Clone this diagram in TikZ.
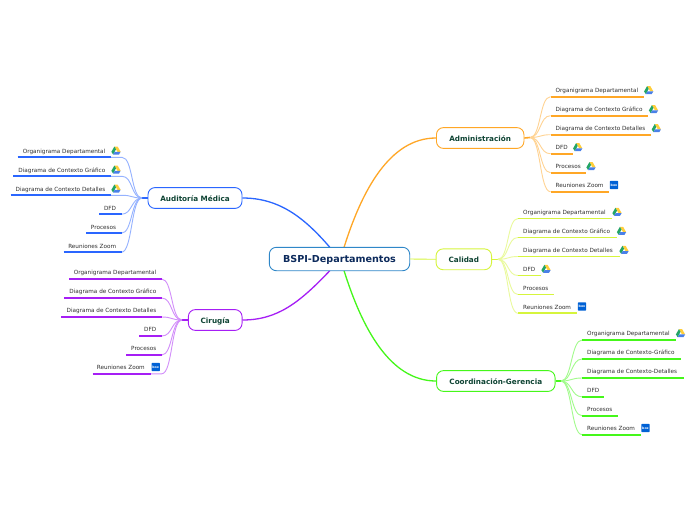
\documentclass[tikz,border=0pt]{standalone}
\usepackage{fontspec}
\setmainfont{DejaVu Sans}
\definecolor{corange}{HTML}{FFA726}
\definecolor{cblue}{HTML}{2A66FF}
\definecolor{cpurple}{HTML}{A61EF5}
\definecolor{cyellow}{HTML}{D6F53C}
\definecolor{cgreen}{HTML}{45F71A}
\definecolor{croot}{HTML}{2F87C8}
\definecolor{roottext}{HTML}{0C2A5C}
\definecolor{branchtext}{HTML}{0F4434}
\definecolor{leaftext}{HTML}{303030}
\definecolor{gdyellow}{HTML}{FFCE3A}
\definecolor{gdgreen}{HTML}{23A566}
\definecolor{gdblue}{HTML}{4A80E8}
\definecolor{boxblue}{HTML}{0061D5}
\tikzset{
  rootbox/.style={draw=croot,line width=0.9,rounded corners=7,fill=white,minimum width=140.4,minimum height=23.4,inner sep=0,font=\fontsize{9.6}{11}\selectfont\bfseries,text=roottext},
  branchbox/.style={draw=#1,line width=0.9,rounded corners=7,fill=white,minimum height=20.8,inner sep=0,font=\fontsize{7.25}{9}\selectfont\bfseries,text=branchtext},
  leaflabel/.style={inner sep=0,font=\fontsize{5.7}{7}\selectfont,text=leaftext},
  mainlink/.style={draw=#1,line width=1.3},
  leafline/.style={draw=#1,line width=1.8},
  leaflink/.style={draw=#1!50,line width=0.9},
  stub/.style={draw=#1,line width=1.6},
  boxlabel/.style={inner sep=0,text=white,font=\fontsize{3.2}{3.2}\selectfont\bfseries}
}
\newcommand\btext[1]{\raisebox{-1.4pt}[5.5pt][1.5pt]{#1}}
% right-hand leaf: name, parent, x start, x end, y of line, text, colour
\newcommand\rleaf[7]{%
  \coordinate (#1s) at (#3,#5);
  \coordinate (#1e) at (#4,#5);
  \node[leaflabel,anchor=base west] (#1) at (#3+5,#5-4.1) {#6};
  \draw[leaflink=#7] (#2) .. controls +(11,0) and +(-11,0) .. (#1s);
  \draw[leafline=#7] (#1s) -- (#1e);
}
% left-hand leaf: name, parent, x line left, x line right, x link end, y, text right edge, text, colour
\newcommand\lleaf[9]{%
  \coordinate (#1s) at (#3,#6);
  \coordinate (#1e) at (#4,#6);
  \coordinate (#1k) at (#5,#6);
  \node[leaflabel,anchor=base east] (#1) at (#7,#6-4.1) {#8};
  \draw[leaflink=#9] (#2) .. controls +(-11,0) and +(11,0) .. (#1k) -- (#1e);
  \draw[leafline=#9] (#1s) -- (#1e);
}
\newcommand\driveicon[2]{%
  \begin{scope}[shift={(#1,#2)}]
    \fill[gdyellow] (-1.6,-4.2) -- (1.6,-4.2) -- (4.6,1.1) -- (1.5,1.1) -- cycle;
    \fill[gdgreen] (-1.6,-4.2) -- (0,-1.4) -- (-2.9,3.8) -- (-4.6,1.1) -- cycle;
    \fill[gdblue] (-1.3,1.1) -- (4.6,1.1) -- (3,3.8) -- (-2.9,3.8) -- cycle;
  \end{scope}}
\newcommand\boxicon[3]{%
  \node[fill=boxblue,rounded corners=0.8,minimum size=8.4,inner sep=0,boxlabel] (#1) at (#2,#3) {box};}
\begin{document}
\begin{tikzpicture}[x=1pt,y=-1pt]
\useasboundingbox (0,0) rectangle (696,520);
\fill[white] (0,0) rectangle (696,520);
% central links
\coordinate (ra) at (344,247.5);
\coordinate (rb) at (330,247.5);
\coordinate (rc) at (330,270.5);
\coordinate (rd) at (344,270.5);
% branches
\node[branchbox=corange,minimum width=87.5] (adm) at (480.2,138) {\btext{Administración}};
\node[branchbox=cyellow,minimum width=55.5] (cal) at (463.8,259.3) {\btext{Calidad}};
\node[branchbox=cgreen,minimum width=118.5] (coo) at (495.8,381) {\btext{Coordinación-Gerencia}};
\node[branchbox=cblue,minimum width=94] (aud) at (195,198) {\btext{Auditoría Médica}};
\node[branchbox=cpurple,minimum width=53.7] (cir) at (215.2,320) {\btext{Cirugía}};
\draw[mainlink=corange] (ra) .. controls (362,190) and (390,138) .. (adm.west);
\draw[mainlink=cgreen] (rd) .. controls (362,328) and (390,381) .. (coo.west);
\draw[mainlink=cblue] (rb) .. controls (303,216) and (278,198) .. (aud.east);
\draw[mainlink=cpurple] (rc) .. controls (300,302) and (278,320) .. (cir.east);
\node[rootbox] (root) at (339.5,259) {\raisebox{-1pt}[7.3pt][2pt]{BSPI-Departamentos}};
\draw[draw=cyellow,line width=0.9] (root.east) -- (cal.west);
% stubs
\coordinate (admh) at (530,137.5);
\coordinate (calh) at (498,259.3);
\coordinate (cooh) at (561,381);
\coordinate (audh) at (142,198);
\coordinate (cirh) at (182,320);
\draw[stub=corange] (adm.east) -- (admh);
\draw[stub=cyellow] (cal.east) -- (calh);
\draw[stub=cgreen] (coo.east) -- (cooh);
\draw[stub=cblue] (aud.west) -- (audh);
\draw[stub=cpurple] (cir.west) -- (cirh);
% Administración
\rleaf{a1}{admh}{550.5}{643.5}{96.7}{Organigrama Departamental}{corange}
\rleaf{a2}{admh}{550.5}{648}{115.7}{Diagrama de Contexto Gráfico}{corange}
\rleaf{a3}{admh}{550.5}{651}{134.7}{Diagrama de Contexto Detalles}{corange}
\rleaf{a4}{admh}{550.5}{572.7}{153.7}{DFD}{corange}
\rleaf{a5}{admh}{550.5}{586}{172.7}{Procesos}{corange}
\rleaf{a6}{admh}{550.5}{609}{191.7}{Reuniones Zoom}{corange}
\driveicon{648.7}{90.3}
\driveicon{653.5}{109.3}
\driveicon{656.3}{128.3}
\driveicon{577.7}{147.3}
\driveicon{591}{166.3}
\boxicon{ab}{614}{185}
% Calidad
\rleaf{c1}{calh}{518}{612}{218.5}{Organigrama Departamental}{cyellow}
\rleaf{c2}{calh}{518}{617}{237.5}{Diagrama de Contexto Gráfico}{cyellow}
\rleaf{c3}{calh}{518}{620}{256.5}{Diagrama de Contexto Detalles}{cyellow}
\rleaf{c4}{calh}{518}{541}{275.5}{DFD}{cyellow}
\rleaf{c5}{calh}{518}{554}{294.5}{Procesos}{cyellow}
\rleaf{c6}{calh}{518}{577}{313.3}{Reuniones Zoom}{cyellow}
\driveicon{617}{212}
\driveicon{621.5}{231}
\driveicon{624}{250}
\driveicon{546}{269}
\boxicon{cb}{582}{306.5}
% Coordinación
\rleaf{g1}{cooh}{582}{675.5}{340}{Organigrama Departamental}{cgreen}
\rleaf{g2}{cooh}{582}{680.5}{359}{Diagrama de Contexto-Gráfico}{cgreen}
\rleaf{g3}{cooh}{582}{683.5}{378}{Diagrama de Contexto-Detalles}{cgreen}
\rleaf{g4}{cooh}{582}{604}{396.8}{DFD}{cgreen}
\rleaf{g5}{cooh}{582}{617.5}{415.7}{Procesos}{cgreen}
\rleaf{g6}{cooh}{582}{640.5}{434.6}{Reuniones Zoom}{cgreen}
\driveicon{680.5}{333.3}
\boxicon{gb}{645.5}{428}
% Auditoría
\lleaf{u1}{audh}{17.7}{110.5}{122}{157.3}{105.5}{Organigrama Departamental}{cblue}
\lleaf{u2}{audh}{13}{110.5}{122}{176.3}{105.5}{Diagrama de Contexto Gráfico}{cblue}
\lleaf{u3}{audh}{10.5}{110.5}{122}{195.3}{105.5}{Diagrama de Contexto Detalles}{cblue}
\lleaf{u4}{audh}{99}{121.5}{121.5}{214.2}{116.3}{DFD}{cblue}
\lleaf{u5}{audh}{86}{121.5}{121.5}{233.2}{116.3}{Procesos}{cblue}
\lleaf{u6}{audh}{63.5}{121.5}{121.5}{252.2}{116.3}{Reuniones Zoom}{cblue}
\driveicon{116}{150.7}
\driveicon{116}{169.7}
\driveicon{116}{188.7}
% Cirugía
\lleaf{p1}{cirh}{69}{161.7}{161.7}{279}{156.5}{Organigrama Departamental}{cpurple}
\lleaf{p2}{cirh}{64}{161.7}{161.7}{298}{156.5}{Diagrama de Contexto Gráfico}{cpurple}
\lleaf{p3}{cirh}{61}{161.7}{161.7}{317}{156.5}{Diagrama de Contexto Detalles}{cpurple}
\lleaf{p4}{cirh}{139.3}{161.7}{161.7}{336}{156.5}{DFD}{cpurple}
\lleaf{p5}{cirh}{126}{161.7}{161.7}{355}{156.5}{Procesos}{cpurple}
\lleaf{p6}{cirh}{92.5}{150.5}{161.7}{373.8}{145}{Reuniones Zoom}{cpurple}
\boxicon{pb}{155.7}{367}
\end{tikzpicture}
\end{document}
